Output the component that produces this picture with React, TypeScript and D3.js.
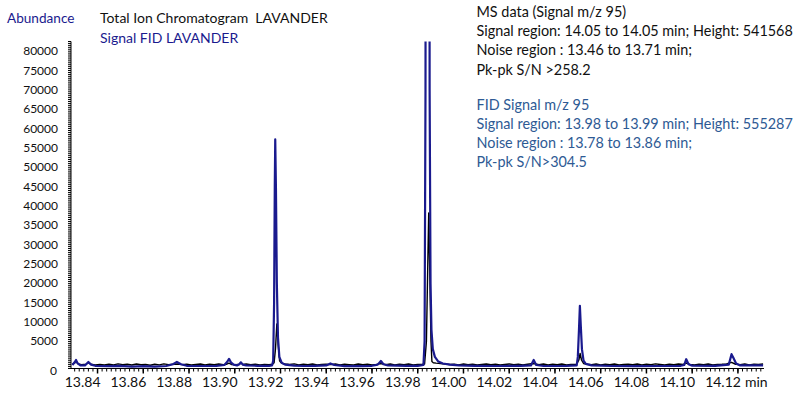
import React from "react";
import * as d3 from "d3";

// ---- Data ----
const ticTimes = [
  13.829, 13.830, 13.8306, 13.8315, 13.833, 13.835, 13.836, 13.837, 13.839, 13.841, 13.843, 13.845,
  13.847, 13.849, 13.851, 13.853, 13.855, 13.857, 13.859, 13.861, 13.863, 13.865, 13.867, 13.869,
  13.871, 13.873, 13.875, 13.877, 13.879, 13.881, 13.883, 13.885, 13.887, 13.889, 13.891, 13.893,
  13.895, 13.8965, 13.8975, 13.8985, 13.9005, 13.902, 13.9027, 13.9035, 13.905, 13.907, 13.909,
  13.911, 13.913, 13.915, 13.9165, 13.9172, 13.9178, 13.9184, 13.919, 13.9196, 13.9202, 13.921,
  13.922, 13.924, 13.926, 13.928, 13.930, 13.932, 13.934, 13.936, 13.938, 13.940, 13.942, 13.944,
  13.946, 13.948, 13.950, 13.952, 13.954, 13.956, 13.958, 13.960, 13.962, 13.9639, 13.966, 13.968,
  13.970, 13.972, 13.974, 13.976, 13.978, 13.980, 13.982, 13.983, 13.9838, 13.9844, 13.9848,
  13.9852, 13.9858, 13.9862, 13.9868, 13.988, 13.990, 13.992, 13.994, 13.996, 13.998, 14.000,
  14.002, 14.004, 14.006, 14.008, 14.010, 14.012, 14.014, 14.016, 14.018, 14.020, 14.022, 14.024,
  14.026, 14.028, 14.0307, 14.033, 14.035, 14.037, 14.039, 14.041, 14.043, 14.045, 14.047,
  14.0495, 14.0505, 14.051, 14.0516, 14.0525, 14.054, 14.056, 14.058, 14.060, 14.062, 14.064,
  14.066, 14.068, 14.070, 14.072, 14.074, 14.076, 14.078, 14.080, 14.082, 14.084, 14.086, 14.088,
  14.090, 14.092, 14.094, 14.096, 14.0974, 14.099, 14.101, 14.103, 14.105, 14.107, 14.109, 14.111,
  14.113, 14.115, 14.1172, 14.119, 14.121, 14.123, 14.125, 14.127, 14.129, 14.131,
];
const ticValues = [
  -900, -600, 0, -800, -1000, -900, -500, -900, -1050, -950, -1100, -900,
  -1050, -800, -1000, -900, -1100, -850, -1000, -950, -1150, -900, -1050, -800,
  -1000, -900, -850, -1000, -900, -1100, -950, -850, -1050, -900, -1000, -850,
  -1000, -900, -600, -950, -1000, -900, -450, -950, -850, -1000, -900,
  -1050, -950, -1000, -900, -500, 3000, 9500, 4000, 0, -500, -700,
  -850, -950, -800, -1050, -900, -1000, -850, -1100, -950, -900, -1000, -850,
  -1050, -900, -1000, -1100, -850, -1000, -900, -1050, -950, -700, -1000, -850,
  -1050, -900, -1000, -850, -1100, -950, -900, -850, 5000, 25000, 38200,
  25000, 5000, -200, -500, -600, -700, -850, -950, -900, -1050, -850,
  -1000, -900, -1100, -950, -850, -1000, -900, -1050, -950, -850, -1000, -900,
  -1100, -900, -700, -1000, -850, -1050, -900, -1000, -850, -1100, -950,
  -900, 300, 1900, 200, -700, -900, -1000, -850, -1050, -900, -1000,
  -850, -1100, -950, -900, -1000, -850, -1050, -900, -1000, -800, -950, -1100,
  -900, -1000, -850, -950, -600, -950, -1050, -900, -1000, -850, -1100, -950,
  -900, -800, -400, -900, -1000, -850, -1050, -900, -950, -850,
];

const fidTimes = [
  13.829, 13.830, 13.8306, 13.8312, 13.8325, 13.8345, 13.836, 13.8372, 13.839, 13.845, 13.850,
  13.855, 13.860, 13.865, 13.870, 13.873, 13.8747, 13.8765, 13.879, 13.885, 13.892, 13.8955,
  13.8968, 13.8975, 13.8983, 13.8995, 13.901, 13.902, 13.9027, 13.9035, 13.905, 13.910, 13.915,
  13.9163, 13.9168, 13.9172, 13.9175, 13.9177, 13.918, 13.9184, 13.9189, 13.9195, 13.9205, 13.922,
  13.926, 13.930, 13.935, 13.940, 13.9418, 13.9435, 13.948, 13.955, 13.960, 13.9625, 13.9639, 13.965,
  13.967, 13.975, 13.980, 13.9825, 13.983, 13.9834, 13.9838, 13.9843, 13.9848, 13.9852,
  13.9856, 13.986, 13.9866, 13.9875, 13.989, 13.991, 13.994, 13.998, 14.005, 14.015, 14.025,
  14.0295, 14.0307, 14.0318, 14.035, 14.045, 14.0495, 14.050, 14.0505, 14.0509, 14.0513, 14.0518,
  14.0525, 14.0535, 14.056, 14.065, 14.075, 14.085, 14.095, 14.0965, 14.0974, 14.0984, 14.100, 14.110,
  14.116, 14.1172, 14.118, 14.1192, 14.121, 14.131,
];
const fidValues = [
  -1100, -400, 200, -600, -1200, -1200, -300, -1000, -1300, -1400, -1300,
  -1500, -1400, -1500, -1350, -900, -300, -900, -1300, -1350, -1300, -1100,
  -200, 500, -400, -1000, -1200, -900, -400, -1000, -1200, -1300, -1300,
  -1200, 0, 15000, 45000, 57200, 45000, 20000, 6000, 1000, -500, -1000,
  -1250, -1350, -1300, -1200, -700, -1100, -1400, -1400, -1300, -1000, -60, -900,
  -1200, -1300, -1300, -1100, 5000, 70000, 400000, 555287, 400000, 70000,
  20000, 8000, 3000, 1000, -200, -700, -1000, -1200, -1300, -1350, -1300,
  -1200, 200, -1100, -1350, -1300, -1200, 1000, 8000, 14200, 9000, 3000,
  0, -800, -1200, -1350, -1400, -1350, -1300, -1100, 400, -900, -1250, -1300,
  -1000, 1700, 800, -700, -1200, -1200,
];

const yTicks = [5000, 10000, 15000, 20000, 25000, 30000, 35000, 40000, 45000, 50000, 55000, 60000, 65000, 70000, 75000, 80000];
const xTicks = [13.84, 13.86, 13.88, 13.90, 13.92, 13.94, 13.96, 13.98, 14.00, 14.02, 14.04, 14.06, 14.08, 14.10, 14.12];

const msLines = [
  "MS data (Signal m/z 95)",
  "Signal region: 14.05 to 14.05 min; Height: 541568",
  "Noise region : 13.46 to 13.71 min;",
  "Pk-pk S/N >258.2",
];
const fidLines = [
  "FID Signal m/z 95",
  "Signal region: 13.98 to 13.99 min; Height: 555287",
  "Noise region : 13.78 to 13.86 min;",
  "Pk-pk S/N>304.5",
];

// ---- Layout ----
const W = 795, H = 398;
const left = 71, right = 764, top = 41.5, bottom = 368.5;
const FONT = "Lato, 'Open Sans', sans-serif";
const NAVY = "#1a1a8e";
const FIDTXT = "#2e5a94";

export default function App() {
  const x = d3.scaleLinear().domain([13.8284, 14.1314]).range([left, right]);
  const y = d3.scaleLinear().domain([-2000, 82500]).range([bottom, top]);
  const line = d3.line<[number, number]>().x((d) => x(d[0])).y((d) => y(d[1]));
  const ticData = ticTimes.map((t, i) => [t, ticValues[i]] as [number, number]);
  const fidData = fidTimes.map((t, i) => [t, fidValues[i]] as [number, number]);

  const yMinor = d3.range(-2000, 82501, 500);
  const xMinor = d3.range(0, 152).map((i) => 13.83 + i * 0.002).filter((t) => x(t) >= left && x(t) <= right);

  return (
    <svg width={W} height={H} style={{ position: "absolute", left: 0, top: 0, background: "#fff" }} fontFamily={FONT}>
      <defs>
        <clipPath id="plot">
          <rect x={left} y={top} width={right - left} height={bottom - top} />
        </clipPath>
      </defs>
      {/* headers */}
      <text x={7} y={22.5} fontSize={13.6} fill={NAVY}>Abundance</text>
      <text x={100} y={22.5} fontSize={14} fill="#111">{"Total Ion Chromatogram\u00a0 LAVANDER"}</text>
      <text x={100} y={42.5} fontSize={14} fill={NAVY}>Signal FID LAVANDER</text>
      {msLines.map((s, i) => (
        <text key={"m" + i} x={476.5} y={16.5 + i * 19.4} fontSize={14.4} fill="#111">{s}</text>
      ))}
      {fidLines.map((s, i) => (
        <text key={"f" + i} x={476.5} y={109.8 + i * 19.2} fontSize={14.4} fill={FIDTXT}>{s}</text>
      ))}

      {/* y axis */}
      <line x1={left} x2={left} y1={top} y2={bottom} stroke="#000" strokeWidth={1} />
      {yMinor.map((v) => (
        <line key={"ym" + v} x1={left - 3} x2={left} y1={y(v)} y2={y(v)} stroke="#000" strokeWidth={1} />
      ))}
      {yTicks.map((v) => (
        <text key={"yt" + v} x={58} y={y(v) + 4} fontSize={12} textAnchor="end" fill="#111">{v}</text>
      ))}
      <text x={57} y={bottom + 6} fontSize={12} textAnchor="end" fill="#111">0</text>

      {/* x axis */}
      <line x1={left} x2={right} y1={bottom} y2={bottom} stroke="#000" strokeWidth={1} />
      {xMinor.map((t, i) => (
        <line key={"xm" + i} x1={x(t)} x2={x(t)} y1={bottom} y2={bottom + 3} stroke="#000" strokeWidth={1} />
      ))}
      {xTicks.map((t) => (
        <g key={"xt" + t}>
          <line x1={x(t)} x2={x(t)} y1={bottom} y2={bottom + 5} stroke="#000" strokeWidth={1.5} />
          <text x={x(t) + 3} y={387} fontSize={14} textAnchor="end" fill="#111">{t.toFixed(2)}</text>
        </g>
      ))}
      <text x={745} y={387} fontSize={14} fill="#111">min</text>

      {/* traces */}
      <g clipPath="url(#plot)">
        <path d={line(ticData) ?? ""} fill="none" stroke="#000" strokeWidth={1.4} strokeLinejoin="round" />
        <path d={line(fidData) ?? ""} fill="none" stroke={NAVY} strokeWidth={2.2} strokeLinejoin="round" />
      </g>
    </svg>
  );
}
